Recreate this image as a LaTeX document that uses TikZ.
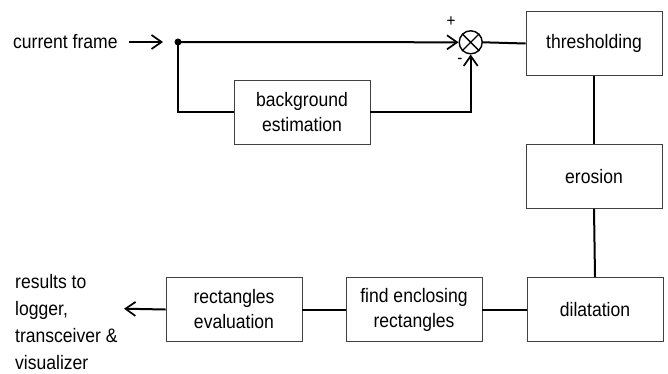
\documentclass[tikz,border=0pt]{standalone}
\usepackage{fontspec}
\setmainfont[FakeStretch=0.9]{Liberation Sans}
\usetikzlibrary{arrows.meta}
\begin{document}
\begin{tikzpicture}[x=1pt,y=-1pt,
  blk/.style={draw=black!75,line width=0.9pt,minimum width=136pt,minimum height=64pt,inner sep=0pt,align=center,font=\fontsize{19.5}{25}\selectfont},
  conn/.style={line width=2pt},
  arr/.style={conn,-{Straight Barb[length=10pt,width=14pt,line width=1.7pt]}},
  lbl/.style={font=\fontsize{19.5}{27}\selectfont,inner sep=0pt}]
\useasboundingbox (0,0) rectangle (668,374);
\node[blk] (thr) at (594,43.5) {thresholding};
\node[blk] (ero) at (594,176.5) {erosion};
\node[blk] (dil) at (595,309.5) {dilatation};
\node[blk] (fer) at (414,309.5) {find enclosing\\rectangles};
\node[blk] (rev) at (234,309.5) {rectangles\\evaluation};
\node[blk] (bge) at (302,112.5) {background\\estimation};
\node[draw,circle,line width=1.4pt,minimum size=23pt,inner sep=0pt] (sum) at (470.7,42.3) {};
\draw[line width=1.4pt] (sum.north west) -- (sum.south east) (sum.north east) -- (sum.south west);
\node[lbl,anchor=west] (cf) at (13,42) {current frame};
\coordinate (cfs) at (129,42);
\coordinate (cfe) at (163,42);
\fill (178,42) circle (3.5pt) coordinate (dot);
\coordinate (res) at (124,308.7);
\node[lbl,anchor=west,align=left] (rt) at (15,322) {results to\\logger,\\transceiver \&\\visualizer};
\node[font=\fontsize{17}{17}\selectfont,inner sep=0pt] (plus) at (451,22) {+};
\node[font=\fontsize{17}{17}\selectfont,inner sep=0pt] (minus) at (460,61) {-};
\draw[arr] (cfs) -- (cfe);
\draw[arr] (dot) -- (sum.west);
\draw[conn] (dot) |- (bge.west);
\draw[arr] (bge.east) -| (sum.south);
\draw[conn] (sum.east) -- (thr.west);
\draw[conn] (thr.south) -- (ero.north);
\draw[conn] (ero.south) -- (dil.north);
\draw[conn] (dil.west) -- (fer.east);
\draw[conn] (fer.west) -- (rev.east);
\draw[arr] (rev.west) -- (res);
\end{tikzpicture}
\end{document}
